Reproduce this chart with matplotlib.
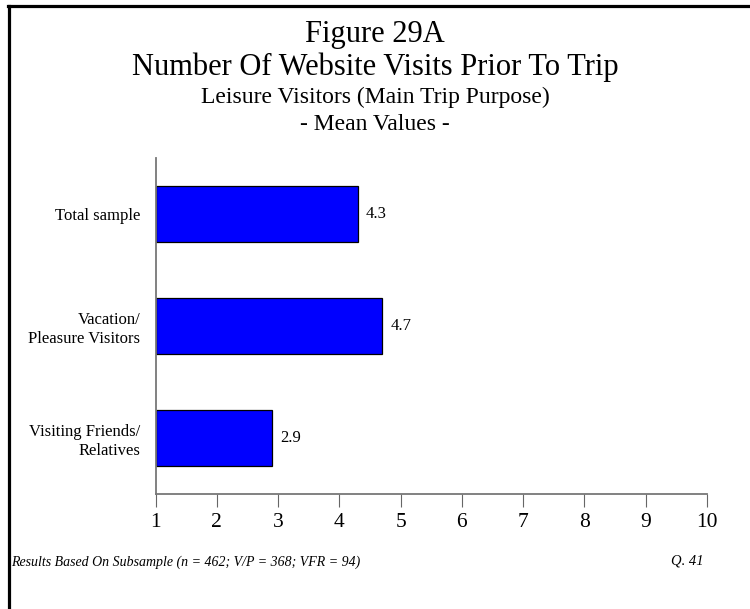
import matplotlib.pyplot as plt
from matplotlib.lines import Line2D

categories = ['Total sample', 'Vacation/\nPleasure Visitors', 'Visiting Friends/\nRelatives']
values = [4.3, 4.7, 2.9]
xticks = [1, 2, 3, 4, 5, 6, 7, 8, 9, 10]

plt.rcParams['font.family'] = ['Liberation Serif', 'DejaVu Serif']

W, H = 750, 609
fig = plt.figure(figsize=(7.5, 6.09), dpi=100)

# frame (left and top only)
fig.add_artist(Line2D([8.5/W, 8.5/W], [0, 1 - 5.5/H], color='black', lw=2.3, transform=fig.transFigure))
fig.add_artist(Line2D([7.5/W, 1], [1 - 5.5/H, 1 - 5.5/H], color='black', lw=2.3, transform=fig.transFigure))

ax = fig.add_axes([155.5/W, 1 - 494/H, (707 - 155.5)/W, (494 - 158)/H])

ypos = list(range(len(categories)))
ax.barh(ypos, [v - 1 for v in values], left=1, height=0.5,
        color='#0000FF', edgecolor='black', linewidth=0.9)
for y, v in zip(ypos, values):
    ax.text(v + 0.13, y, f'{v:.1f}', va='center', ha='left', fontsize=12)

ax.set_xlim(1, 10)
ax.set_ylim(2.5, -0.5)
ax.set_xticks(xticks)
ax.set_xticklabels([str(t) for t in xticks], fontsize=15.5)
ax.set_yticks(ypos)
ax.set_yticklabels(categories, fontsize=12, linespacing=1.25)
ax.tick_params(axis='y', length=0, pad=11)
ax.tick_params(axis='x', direction='out', length=9, color='#666666', pad=5)
for s in ['top', 'right']:
    ax.spines[s].set_visible(False)
for s in ['left', 'bottom']:
    ax.spines[s].set_color('#777777')
    ax.spines[s].set_linewidth(1.3)

fig.text(0.5, 1 - 42/H, 'Figure 29A', ha='center', va='baseline', fontsize=22)
fig.text(0.5, 1 - 75/H, 'Number Of Website Visits Prior To Trip', ha='center', va='baseline', fontsize=22)
fig.text(0.5, 1 - 103/H, 'Leisure Visitors (Main Trip Purpose)', ha='center', va='baseline', fontsize=17)
fig.text(0.5, 1 - 130/H, '- Mean Values -', ha='center', va='baseline', fontsize=17)

fig.text(11/W, 1 - 562/H, 'Results Based On Subsample (n = 462; V/P = 368; VFR = 94)',
         ha='left', va='center', fontsize=10, style='italic')
fig.text(704/W, 1 - 561/H, 'Q. 41', ha='right', va='center', fontsize=10.5, style='italic')

fig.savefig('out.png', dpi=100)
